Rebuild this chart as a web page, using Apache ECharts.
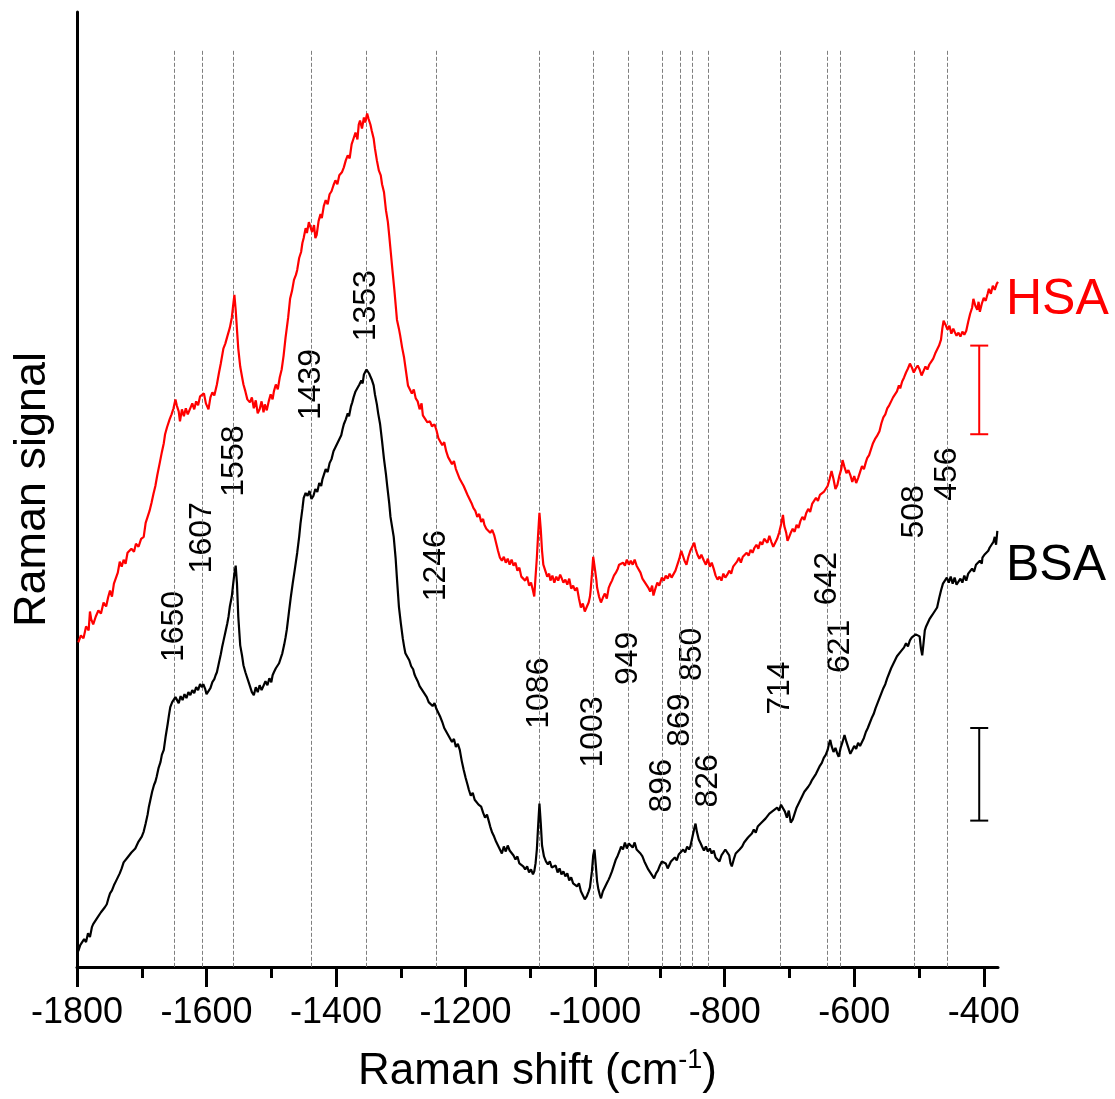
<!DOCTYPE html>
<html>
<head>
<meta charset="utf-8">
<script src="https://cdn.jsdelivr.net/npm/echarts@6/dist/echarts.min.js"></script>
<style>html,body{margin:0;padding:0;background:#fff}#c{width:1115px;height:1099px}</style>
</head>
<body>
<div id="c"></div>
<script>
// ---- data (Raman shift in cm-1, signal in arbitrary units) ----
const hsa = [[-1798,326],[-1794,333],[-1790,330],[-1786,342],[-1782,338],[-1780,357],[-1778,349],[-1775,344],[-1771,352],[-1767,358],[-1763,355],[-1759,366],[-1755,362],[-1752,371],[-1749,378],[-1746,372],[-1743,385],[-1740,383],[-1737,396],[-1734,407],[-1731,402],[-1728,409],[-1725,405],[-1722,416],[-1719,414],[-1716,420],[-1712,417],[-1709,425],[-1705,422],[-1701,430],[-1697,432],[-1694,446],[-1691,452],[-1688,458],[-1685,466],[-1682,475],[-1679,483],[-1676,494],[-1672,507],[-1669,517],[-1666,526],[-1664,535],[-1661,542],[-1657,550],[-1654,555],[-1651,561],[-1648,570],[-1646,564],[-1643,558],[-1641,548],[-1638,560],[-1635,553],[-1632,561],[-1629,555],[-1626,557],[-1622,566],[-1619,560],[-1616,568],[-1613,564],[-1610,573],[-1607,571],[-1604,576],[-1601,566],[-1597,560],[-1594,572],[-1591,577],[-1588,574],[-1584,585],[-1581,596],[-1578,606],[-1574,621],[-1571,626],[-1568,633],[-1564,642],[-1561,652],[-1559,664],[-1557,675],[-1555,660],[-1553,640],[-1551,621],[-1548,603],[-1545,592],[-1543,585],[-1540,578],[-1537,570],[-1533,567],[-1530,572],[-1527,561],[-1524,569],[-1521,556],[-1518,560],[-1515,568],[-1512,557],[-1510,565],[-1507,559],[-1504,568],[-1501,575],[-1498,570],[-1496,578],[-1493,585],[-1490,580],[-1487,592],[-1484,600],[-1481,614],[-1478,632],[-1474,652],[-1471,671],[-1468,679],[-1465,690],[-1462,695],[-1460,700],[-1457,712],[-1454,718],[-1452,727],[-1450,732],[-1447,742],[-1445,737],[-1442,748],[-1440,746],[-1437,738],[-1434,745],[-1432,732],[-1430,735],[-1427,749],[-1424,756],[-1422,752],[-1419,764],[-1416,770],[-1413,766],[-1410,776],[-1407,779],[-1404,785],[-1401,790],[-1398,786],[-1395,795],[-1391,798],[-1388,803],[-1385,810],[-1382,815],[-1379,812],[-1376,826],[-1373,832],[-1370,838],[-1367,831],[-1365,846],[-1363,850],[-1360,842],[-1357,853],[-1355,848],[-1352,857],[-1350,852],[-1347,846],[-1345,840],[-1342,832],[-1340,822],[-1337,810],[-1334,800],[-1331,795],[-1329,786],[-1326,778],[-1323,760],[-1320,748],[-1318,735],[-1316,721],[-1313,700],[-1310,680],[-1308,665],[-1306,650],[-1303,641],[-1301,634],[-1298,622],[-1295,612],[-1292,598],[-1289,584],[-1286,580],[-1283,576],[-1280,580],[-1277,571],[-1274,568],[-1271,560],[-1268,566],[-1266,554],[-1263,552],[-1259,547],[-1255,548],[-1252,543],[-1248,545],[-1245,539],[-1242,531],[-1239,530],[-1236,524],[-1233,527],[-1230,518],[-1227,512],[-1224,514],[-1221,505],[-1218,508],[-1215,500],[-1212,498],[-1209,490],[-1206,492],[-1203,483],[-1200,481],[-1197,474],[-1194,476],[-1191,466],[-1188,461],[-1185,458],[-1182,452],[-1179,455],[-1176,447],[-1173,450],[-1171,444],[-1168,440],[-1165,442],[-1162,436],[-1159,439],[-1156,434],[-1153,426],[-1150,418],[-1147,411],[-1144,408],[-1141,412],[-1138,406],[-1135,410],[-1132,404],[-1129,409],[-1126,403],[-1123,406],[-1120,398],[-1117,401],[-1114,392],[-1111,394],[-1108,388],[-1105,392],[-1102,383],[-1099,386],[-1096,378],[-1094,372],[-1092,392],[-1090,411],[-1088,435],[-1086,456],[-1084,440],[-1082,418],[-1080,404],[-1077,398],[-1074,392],[-1071,395],[-1069,388],[-1066,393],[-1063,386],[-1060,392],[-1057,388],[-1054,394],[-1052,391],[-1049,386],[-1046,389],[-1043,384],[-1040,390],[-1037,380],[-1034,383],[-1031,378],[-1028,381],[-1025,370],[-1022,361],[-1019,365],[-1016,357],[-1013,359],[-1010,366],[-1008,372],[-1007,378],[-1005,394],[-1003,412],[-1002,413],[-1000,398],[-998,388],[-997,381],[-994,372],[-991,366],[-988,371],[-985,375],[-982,370],[-979,381],[-977,384],[-974,388],[-971,393],[-968,396],[-965,400],[-963,404],[-960,402],[-957,406],[-954,403],[-951,409],[-948,404],[-945,408],[-942,404],[-939,409],[-936,403],[-933,401],[-930,396],[-927,390],[-924,387],[-921,384],[-918,381],[-915,377],[-912,383],[-910,373],[-907,380],[-904,386],[-901,383],[-897,391],[-894,388],[-891,393],[-888,390],[-885,395],[-882,391],[-879,393],[-876,398],[-873,404],[-870,410],[-867,418],[-865,414],[-862,408],[-859,404],[-856,412],[-853,418],[-850,422],[-847,426],[-845,420],[-842,414],[-839,410],[-836,414],[-832,408],[-829,404],[-826,410],[-823,402],[-820,406],[-817,400],[-814,393],[-811,389],[-808,392],[-805,388],[-802,395],[-799,391],[-796,394],[-793,398],[-790,395],[-787,402],[-784,400],[-781,407],[-778,411],[-775,406],[-772,412],[-769,410],[-766,416],[-763,413],[-760,419],[-757,416],[-754,421],[-751,424],[-748,420],[-745,427],[-742,424],[-739,430],[-737,431],[-734,426],[-731,433],[-728,427],[-725,422],[-722,424],[-719,430],[-716,436],[-713,444],[-710,454],[-708,443],[-705,436],[-703,428],[-701,431],[-698,436],[-695,440],[-692,437],[-689,444],[-686,441],[-683,448],[-680,452],[-677,449],[-674,456],[-671,460],[-668,457],[-665,465],[-662,468],[-659,471],[-656,468],[-653,474],[-650,472],[-647,477],[-644,478],[-641,483],[-638,490],[-635,498],[-632,490],[-629,480],[-626,484],[-623,493],[-620,500],[-618,509],[-615,502],[-612,496],[-609,499],[-606,494],[-603,487],[-600,493],[-597,486],[-594,491],[-591,497],[-588,503],[-585,500],[-582,507],[-580,511],[-577,514],[-574,520],[-571,526],[-568,530],[-565,533],[-561,538],[-558,546],[-555,552],[-552,555],[-549,561],[-546,564],[-543,568],[-540,572],[-537,575],[-534,578],[-531,584],[-529,581],[-526,588],[-523,592],[-520,597],[-517,601],[-514,606],[-511,602],[-508,597],[-505,601],[-502,604],[-499,600],[-496,594],[-493,596],[-490,603],[-487,600],[-484,605],[-481,608],[-478,611],[-475,616],[-472,614],[-469,624],[-466,630],[-464,641],[-462,649],[-459,645],[-456,640],[-453,644],[-450,636],[-447,641],[-445,638],[-442,634],[-439,637],[-436,633],[-433,638],[-430,635],[-427,639],[-424,648],[-421,656],[-418,662],[-416,671],[-413,664],[-410,660],[-408,668],[-406,658],[-403,666],[-400,672],[-397,669],[-394,676],[-392,681],[-389,676],[-386,684],[-383,680],[-380,686],[-378,688]];

const bsa = [[-1798,16],[-1795,22],[-1792,20],[-1789,28],[-1786,25],[-1783,34],[-1780,30],[-1777,40],[-1775,43],[-1772,41],[-1769,49],[-1766,47],[-1763,55],[-1760,53],[-1757,60],[-1754,63],[-1751,70],[-1749,74],[-1746,77],[-1743,82],[-1740,86],[-1737,90],[-1734,94],[-1731,99],[-1728,105],[-1725,103],[-1722,110],[-1719,108],[-1716,115],[-1713,113],[-1710,119],[-1708,121],[-1705,126],[-1702,124],[-1700,131],[-1697,136],[-1694,144],[-1691,153],[-1689,161],[-1687,167],[-1684,176],[-1681,183],[-1679,186],[-1677,191],[-1674,200],[-1671,206],[-1669,213],[-1666,218],[-1663,232],[-1660,244],[-1658,253],[-1656,261],[-1653,266],[-1650,265],[-1648,271],[-1646,269],[-1643,265],[-1640,272],[-1637,268],[-1634,274],[-1631,270],[-1628,276],[-1625,273],[-1622,278],[-1619,275],[-1616,281],[-1613,278],[-1610,284],[-1607,281],[-1605,284],[-1602,279],[-1600,274],[-1597,273],[-1594,280],[-1591,286],[-1588,289],[-1586,293],[-1584,296],[-1581,305],[-1578,314],[-1576,321],[-1574,327],[-1571,336],[-1568,345],[-1566,352],[-1564,362],[-1561,372],[-1559,384],[-1557,395],[-1555,403],[-1553,385],[-1551,352],[-1548,323],[-1545,312],[-1543,303],[-1540,296],[-1538,292],[-1535,286],[-1532,280],[-1530,276],[-1527,273],[-1524,281],[-1521,276],[-1518,283],[-1515,278],[-1512,280],[-1509,287],[-1506,283],[-1503,290],[-1500,286],[-1498,293],[-1496,296],[-1493,300],[-1490,298],[-1488,305],[-1486,307],[-1483,315],[-1480,324],[-1478,331],[-1476,339],[-1473,355],[-1470,371],[-1467,385],[-1464,398],[-1462,407],[-1460,416],[-1457,432],[-1455,445],[-1452,460],[-1450,471],[-1447,476],[-1444,473],[-1441,478],[-1438,470],[-1435,473],[-1432,480],[-1429,477],[-1426,486],[-1423,483],[-1421,490],[-1419,494],[-1416,500],[-1413,497],[-1410,506],[-1407,510],[-1404,518],[-1401,522],[-1398,520],[-1395,530],[-1392,534],[-1390,540],[-1388,545],[-1385,550],[-1382,556],[-1380,553],[-1377,563],[-1375,567],[-1373,572],[-1370,578],[-1367,576],[-1364,585],[-1361,589],[-1359,586],[-1357,595],[-1355,593],[-1353,600],[-1351,601],[-1349,596],[-1347,598],[-1345,590],[-1342,584],[-1340,575],[-1337,565],[-1335,556],[-1332,545],[-1329,528],[-1326,510],[-1323,495],[-1321,483],[-1318,466],[-1316,452],[-1313,440],[-1311,432],[-1308,410],[-1306,390],[-1303,362],[-1300,345],[-1297,330],[-1295,322],[-1293,315],[-1290,316],[-1287,308],[-1284,302],[-1281,299],[-1279,294],[-1277,291],[-1274,287],[-1271,282],[-1268,284],[-1265,276],[-1262,278],[-1260,271],[-1257,266],[-1254,268],[-1251,262],[-1248,265],[-1245,259],[-1242,258],[-1239,251],[-1236,246],[-1233,240],[-1230,242],[-1227,233],[-1224,231],[-1221,226],[-1218,229],[-1215,221],[-1212,224],[-1209,218],[-1206,207],[-1203,198],[-1200,190],[-1197,183],[-1195,178],[-1192,172],[-1189,175],[-1186,168],[-1183,166],[-1180,163],[-1176,161],[-1173,155],[-1170,150],[-1167,153],[-1164,146],[-1162,141],[-1159,135],[-1156,131],[-1153,126],[-1150,122],[-1147,118],[-1144,114],[-1141,121],[-1138,116],[-1135,122],[-1132,117],[-1129,118],[-1126,112],[-1123,108],[-1120,111],[-1117,104],[-1114,106],[-1111,101],[-1108,98],[-1105,101],[-1102,95],[-1099,98],[-1096,93],[-1094,96],[-1092,104],[-1090,118],[-1088,142],[-1086,164],[-1084,145],[-1082,122],[-1079,111],[-1076,106],[-1073,103],[-1070,106],[-1067,100],[-1064,98],[-1061,102],[-1058,95],[-1055,99],[-1052,93],[-1049,96],[-1046,91],[-1043,94],[-1040,87],[-1037,90],[-1034,84],[-1031,86],[-1028,81],[-1025,84],[-1022,76],[-1019,72],[-1016,68],[-1013,71],[-1010,76],[-1008,80],[-1007,81],[-1005,96],[-1003,112],[-1001,118],[-999,102],[-997,86],[-995,78],[-993,73],[-991,69],[-988,76],[-985,80],[-982,84],[-979,88],[-977,91],[-974,96],[-971,102],[-968,108],[-965,112],[-962,117],[-960,121],[-957,118],[-954,125],[-951,119],[-948,124],[-945,123],[-942,120],[-939,125],[-936,118],[-933,116],[-930,114],[-927,111],[-924,106],[-921,102],[-918,98],[-915,95],[-912,92],[-909,89],[-906,94],[-903,97],[-900,102],[-897,106],[-894,108],[-891,104],[-888,99],[-886,101],[-883,106],[-880,104],[-877,110],[-874,107],[-871,113],[-868,115],[-864,118],[-861,115],[-858,121],[-855,118],[-853,121],[-850,130],[-847,139],[-845,144],[-843,136],[-840,128],[-837,124],[-835,121],[-832,117],[-829,121],[-826,116],[-823,119],[-820,114],[-817,117],[-814,110],[-811,108],[-808,106],[-805,112],[-802,115],[-799,118],[-796,119],[-793,112],[-791,104],[-789,101],[-786,108],[-783,114],[-780,112],[-777,118],[-773,121],[-770,125],[-767,123],[-764,130],[-761,128],[-758,134],[-755,138],[-752,135],[-749,141],[-746,139],[-743,145],[-740,143],[-737,149],[-734,147],[-731,154],[-728,152],[-725,157],[-722,155],[-719,160],[-716,157],[-713,163],[-710,161],[-707,156],[-704,150],[-701,157],[-698,145],[-695,148],[-692,154],[-689,160],[-686,164],[-683,168],[-680,172],[-677,176],[-674,174],[-671,181],[-668,184],[-665,188],[-662,186],[-659,194],[-656,198],[-653,202],[-650,205],[-647,210],[-644,213],[-641,218],[-639,224],[-637,228],[-635,222],[-632,216],[-629,220],[-626,214],[-624,211],[-621,220],[-618,226],[-615,233],[-612,226],[-609,220],[-606,214],[-603,218],[-600,222],[-597,219],[-594,225],[-591,222],[-588,224],[-585,230],[-582,236],[-579,240],[-576,245],[-573,250],[-570,254],[-567,260],[-564,265],[-561,270],[-558,275],[-555,280],[-552,284],[-549,290],[-546,295],[-543,300],[-540,304],[-537,308],[-534,312],[-531,310],[-528,317],[-525,319],[-523,321],[-520,325],[-517,322],[-514,328],[-511,331],[-508,329],[-505,334],[-502,336],[-499,332],[-497,320],[-495,313],[-493,325],[-491,338],[-489,342],[-487,344],[-484,349],[-481,352],[-478,355],[-475,358],[-472,361],[-469,370],[-466,378],[-463,385],[-460,383],[-457,391],[-454,386],[-451,392],[-448,385],[-445,391],[-442,384],[-439,384],[-436,390],[-433,386],[-430,393],[-427,388],[-424,395],[-421,394],[-418,400],[-415,397],[-412,404],[-409,402],[-406,408],[-403,405],[-402,411],[-399,414],[-396,412],[-393,418],[-391,421],[-388,424],[-385,427],[-383,432],[-381,424],[-379,438]];

// peak positions (cm-1), their label texts and the signal level at which each label sits
const peakPositions = [-1650,-1607,-1558,-1439,-1353,-1246,-1086,-1003,-949,-896,-869,-850,-826,-714,-642,-621,-508,-456];
const peakLabels = ['1650','1607','1558','1439','1353','1246','1086','1003','949','896','869','850','826','714','642','621','508','456'];
const peakLabelLevels = [342,431,508,585,664,403,275,236,310,182,248,314,187,280,390,322,457,495];
const peakLineTop = 920;

// scale bars: [x, top, bottom]
const hsaScaleBar = [-407, 624, 535];
const bsaScaleBar = [-407, 240, 147];

const majorTicks = [-1800,-1600,-1400,-1200,-1000,-800,-600,-400];
const minorTicks = [-1700,-1500,-1300,-1100,-900,-700,-500];

const FONT = '"Liberation Sans", Arial, sans-serif';

const chart = echarts.init(document.getElementById('c'), null, {renderer: 'canvas'});

function scaleBar(params, api) {
  const top = api.coord([api.value(0), api.value(1)]);
  const bot = api.coord([api.value(0), api.value(2)]);
  const half = 9;
  const st = {stroke: api.visual('color'), lineWidth: 2};
  return {type: 'group', children: [
    {type: 'line', shape: {x1: top[0], y1: top[1], x2: bot[0], y2: bot[1]}, style: st},
    {type: 'line', shape: {x1: top[0]-half, y1: top[1], x2: top[0]+half, y2: top[1]}, style: st},
    {type: 'line', shape: {x1: bot[0]-half, y1: bot[1], x2: bot[0]+half, y2: bot[1]}, style: st}
  ]};
}

const option = {
  backgroundColor: '#fff',
  animation: false,
  grid: {left: 77, right: 117, top: 12, bottom: 128, containLabel: false},
  xAxis: [{
    type: 'value', min: -1800, max: -378,
    axisLine: {show: true, onZero: false, lineStyle: {color: '#000', width: 3}},
    axisTick: {show: true, length: 20, lineStyle: {color: '#000', width: 3}, customValues: majorTicks},
    axisLabel: {show: true, customValues: majorTicks, formatter: v => String(v), color: '#000', fontSize: 36, fontFamily: FONT, margin: 28},
    splitLine: {show: false},
    name: '{a|Raman shift (cm}{b|-1}{a|)}',
    nameLocation: 'middle', nameGap: 80,
    nameTextStyle: {rich: {
      a: {fontSize: 44, fontFamily: FONT, color: '#000', lineHeight: 50},
      b: {fontSize: 27, fontFamily: FONT, color: '#000', verticalAlign: 'top', lineHeight: 30}
    }}
  }, {
    type: 'value', min: -1800, max: -378, position: 'bottom',
    axisLine: {show: false},
    axisTick: {show: true, length: 11, lineStyle: {color: '#000', width: 3}, customValues: minorTicks},
    axisLabel: {show: false},
    splitLine: {show: false}
  }],
  yAxis: {
    type: 'value', min: 0, max: 959,
    axisLine: {show: true, onZero: false, lineStyle: {color: '#000', width: 3}},
    axisTick: {show: false}, axisLabel: {show: false}, splitLine: {show: false},
    name: 'Raman signal', nameLocation: 'middle', nameGap: 22,
    nameTextStyle: {fontSize: 45, fontFamily: FONT, color: '#000'}
  },
  series: [
    {
      name: 'peak lines', type: 'line', data: [], z: 1, silent: true,
      markLine: {
        silent: true, symbol: ['none', 'none'], label: {show: false},
        lineStyle: {color: '#7f7f7f', width: 1, type: [4, 2]},
        animation: false,
        data: peakPositions.map(p => [{coord: [p, peakLineTop]}, {coord: [p, 0]}])
      }
    },
    {
      name: 'peak labels', type: 'scatter', z: 3, silent: true,
      symbolSize: 0,
      itemStyle: {opacity: 1},
      data: peakPositions.map((p, i) => [p, peakLabelLevels[i], peakLabels[i]]),
      label: {
        show: true, position: 'inside', rotate: 90, opacity: 1,
        formatter: p => p.data[2],
        color: '#000', fontSize: 32, fontFamily: FONT,
        backgroundColor: '#fff', padding: [0, 6]
      }
    },
    {
      name: 'BSA', type: 'line', data: bsa, showSymbol: false, symbol: 'none', z: 5,
      lineStyle: {color: '#000', width: 2.2}, itemStyle: {color: '#000'}
    },
    {
      name: 'HSA', type: 'line', data: hsa, showSymbol: false, symbol: 'none', z: 5,
      lineStyle: {color: '#ff0000', width: 2.2}, itemStyle: {color: '#ff0000'}
    },
    {
      name: 'HSA scale', type: 'custom', renderItem: scaleBar, z: 5,
      itemStyle: {color: '#ff0000'}, data: [hsaScaleBar]
    },
    {
      name: 'BSA scale', type: 'custom', renderItem: scaleBar, z: 5,
      itemStyle: {color: '#000'}, data: [bsaScaleBar]
    }
  ],
  graphic: [
    {type: 'text', x: 1006, y: 300, style: {text: 'HSA', fill: '#ff0000', font: '50px ' + FONT, verticalAlign: 'middle', align: 'left'}},
    {type: 'text', x: 1006, y: 566, style: {text: 'BSA', fill: '#000', font: '50px ' + FONT, verticalAlign: 'middle', align: 'left'}}
  ]
};
chart.setOption(option);
</script>
</body>
</html>
